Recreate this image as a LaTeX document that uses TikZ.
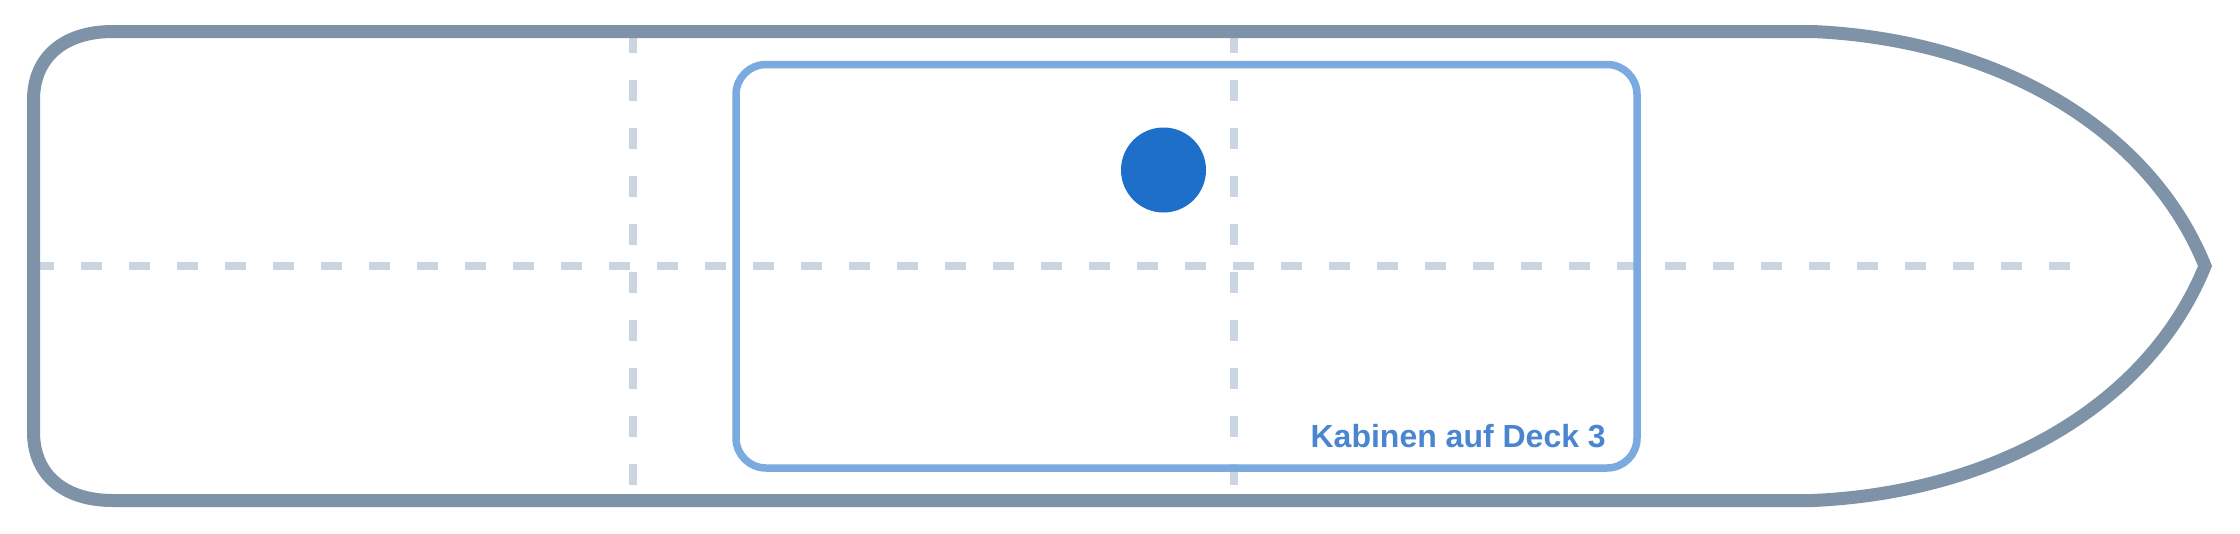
\documentclass[tikz,border=0pt]{standalone}
\usepackage{fontspec}
\setmainfont{Liberation Sans}
\definecolor{hullc}{HTML}{7F93A8}
\definecolor{dashc}{HTML}{CBD5E1}
\definecolor{cabinc}{HTML}{7AAAE0}
\definecolor{dotc}{HTML}{1D6FCA}
\definecolor{labelc}{HTML}{4A86D0}
\begin{document}
\begin{tikzpicture}[x=1pt,y=-1pt,
  gridline/.style={draw=dashc, line width=7.5pt, dash pattern=on 21pt off 27pt},
  hullline/.style={draw=hullc, line width=13pt, line join=miter},
  cabinline/.style={draw=cabinc, line width=7.5pt, rounded corners=30pt},
  marker/.style={circle, fill=dotc, minimum size=85pt, inner sep=0pt},
  labeltext/.style={text=labelc, font=\bfseries\fontsize{32}{38}\selectfont, inner sep=0pt}]
\useasboundingbox (0,0) rectangle (2240,533);
\fill[white] (0,0) rectangle (2240,533);
% grid lines
\draw[gridline] (33,266) -- (2071,266);
\draw[gridline] (633,31.5) -- (633,500.5);
\draw[gridline] (1234,31.5) -- (1234,500.5);
% hull
\draw[hullline] (113,31.5) -- (1813,31.5)
  .. controls (2000,40) and (2150,130) .. (2205,266)
  .. controls (2150,402) and (2000,492) .. (1813,500.5)
  -- (113,500.5)
  .. controls (63,500.5) and (33.5,474) .. (33.5,432)
  -- (33.5,100)
  .. controls (33.5,58) and (63,31.5) .. (113,31.5) -- cycle;
% cabin area
\draw[cabinline] (736,64.5) rectangle (1637,468);
\node[marker] (dot) at (1163.5,170) {};
\node[labeltext, anchor=base east] (label) at (1606,447) {Kabinen auf Deck 3};
\end{tikzpicture}
\end{document}
